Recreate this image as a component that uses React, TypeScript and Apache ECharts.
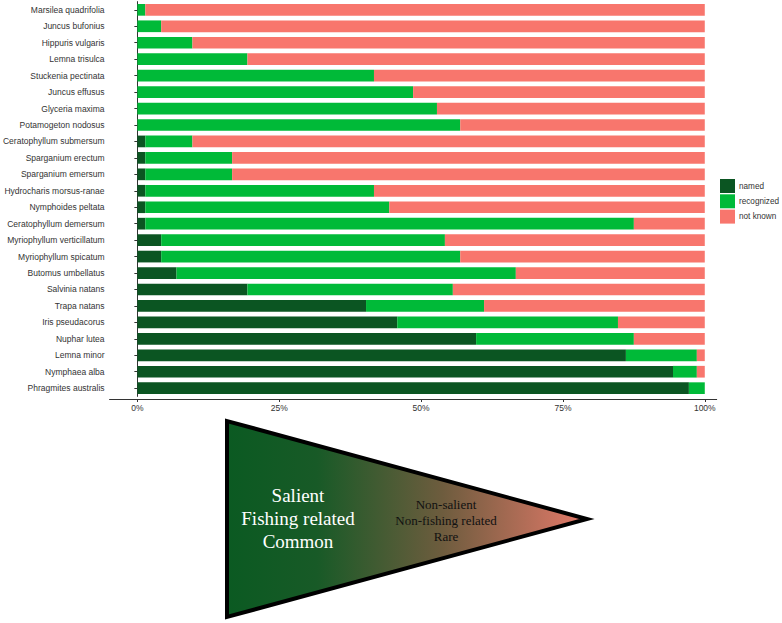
import React, { useEffect, useRef } from "react";
import * as echarts from "echarts";

const categories = [
  "Marsilea quadrifolia",
  "Juncus bufonius",
  "Hippuris vulgaris",
  "Lemna trisulca",
  "Stuckenia pectinata",
  "Juncus effusus",
  "Glyceria maxima",
  "Potamogeton nodosus",
  "Ceratophyllum submersum",
  "Sparganium erectum",
  "Sparganium emersum",
  "Hydrocharis morsus-ranae",
  "Nymphoides peltata",
  "Ceratophyllum demersum",
  "Myriophyllum verticillatum",
  "Myriophyllum spicatum",
  "Butomus umbellatus",
  "Salvinia natans",
  "Trapa natans",
  "Iris pseudacorus",
  "Nuphar lutea",
  "Lemna minor",
  "Nymphaea alba",
  "Phragmites australis",
];

const named = [0, 0, 0, 0, 0, 0, 0, 0, 1.4, 1.4, 1.4, 1.4, 1.4, 1.4, 4.2, 4.2, 6.9, 19.4, 40.3, 45.8, 59.7, 86.1, 94.4, 97.2];
const recognized = [1.4, 4.2, 9.7, 19.4, 41.7, 48.6, 52.8, 56.9, 8.3, 15.3, 15.3, 40.3, 43.0, 86.1, 50.0, 52.7, 59.8, 36.2, 20.8, 38.9, 27.8, 12.5, 4.2, 2.8];
const notKnown = [98.6, 95.8, 90.3, 80.6, 58.3, 51.4, 47.2, 43.1, 90.3, 83.3, 83.3, 58.3, 55.6, 12.5, 45.8, 43.1, 33.3, 44.4, 38.9, 15.3, 12.5, 1.4, 1.4, 0];

const seriesNames = ["named", "recognized", "not known"];
const seriesColors = ["#0b5522", "#00ba38", "#f8766d"];
const xTicks = [0, 25, 50, 75, 100];

const leftText = "Salient\nFishing related\nCommon";
const rightText = "Non-salient\nNon-fishing related\nRare";

export default function App() {
  const ref = useRef<HTMLDivElement>(null);
  useEffect(() => {
    if (!ref.current) return;
    const chart = echarts.init(ref.current, null, { renderer: "svg" });
    const values = [named, recognized, notKnown];
    const labelFont = "Liberation Sans";
    chart.setOption({
      animation: false,
      backgroundColor: "#ffffff",
      grid: { left: 107.3, right: 65.3, top: 1.6, height: 394.8, containLabel: false },
      legend: {
        orient: "vertical",
        left: 720,
        top: 179,
        padding: 0,
        itemWidth: 15,
        itemHeight: 14,
        itemGap: 1.3,
        icon: "rect",
        data: seriesNames,
        textStyle: { fontFamily: labelFont, fontSize: 8.2, color: "#333", padding: [0, 0, 0, -1] },
      },
      xAxis: {
        type: "value",
        min: -4.9,
        max: 102.1,
        offset: 2.6,
        splitLine: { show: false },
        axisLine: { show: true, lineStyle: { color: "#333", width: 1 } },
        axisTick: { show: true, length: 3, customValues: xTicks, lineStyle: { color: "#333" } },
        axisLabel: {
          customValues: xTicks,
          formatter: (v: number) => `${v}%`,
          fontFamily: labelFont,
          fontSize: 8.5,
          color: "#333",
          margin: 4,
        },
      },
      yAxis: {
        type: "category",
        inverse: true,
        data: categories,
        axisLine: { show: true, lineStyle: { color: "#333", width: 1 } },
        axisTick: { show: true, length: 3, alignWithLabel: true, lineStyle: { color: "#333" } },
        axisLabel: { fontFamily: labelFont, fontSize: 8.5, color: "#333", margin: 5 },
      },
      series: seriesNames.map((name, i) => ({
        name,
        type: "bar",
        stack: "total",
        barWidth: 11.7,
        data: values[i],
        itemStyle: { color: seriesColors[i] },
      })),
      graphic: [
        {
          type: "polygon",
          shape: { points: [[227, 421], [227, 617], [587, 519]] },
          style: {
            fill: new echarts.graphic.LinearGradient(0, 0, 1, 0, [
              { offset: 0, color: "#0b5a22" },
              { offset: 0.25, color: "#185a27" },
              { offset: 0.6, color: "#6e5c3e" },
              { offset: 1, color: "#e57a6a" },
            ]),
            stroke: "#000",
            lineWidth: 4,
            lineJoin: "miter",
          },
        },
        {
          type: "text",
          x: 298,
          y: 518.3,
          style: {
            text: leftText,
            fill: "#ffffff",
            fontFamily: "Liberation Serif",
            fontSize: 19,
            lineHeight: 23.3,
            align: "center",
            verticalAlign: "middle",
          },
        },
        {
          type: "text",
          x: 446,
          y: 520,
          style: {
            text: rightText,
            fill: "#111",
            fontFamily: "Liberation Serif",
            fontSize: 13,
            lineHeight: 16,
            align: "center",
            verticalAlign: "middle",
          },
        },
      ],
    });
    return () => chart.dispose();
  }, []);
  return (
    <div
      ref={ref}
      style={{ position: "fixed", left: 0, top: 0, width: 782, height: 623, background: "#fff" }}
    />
  );
}
